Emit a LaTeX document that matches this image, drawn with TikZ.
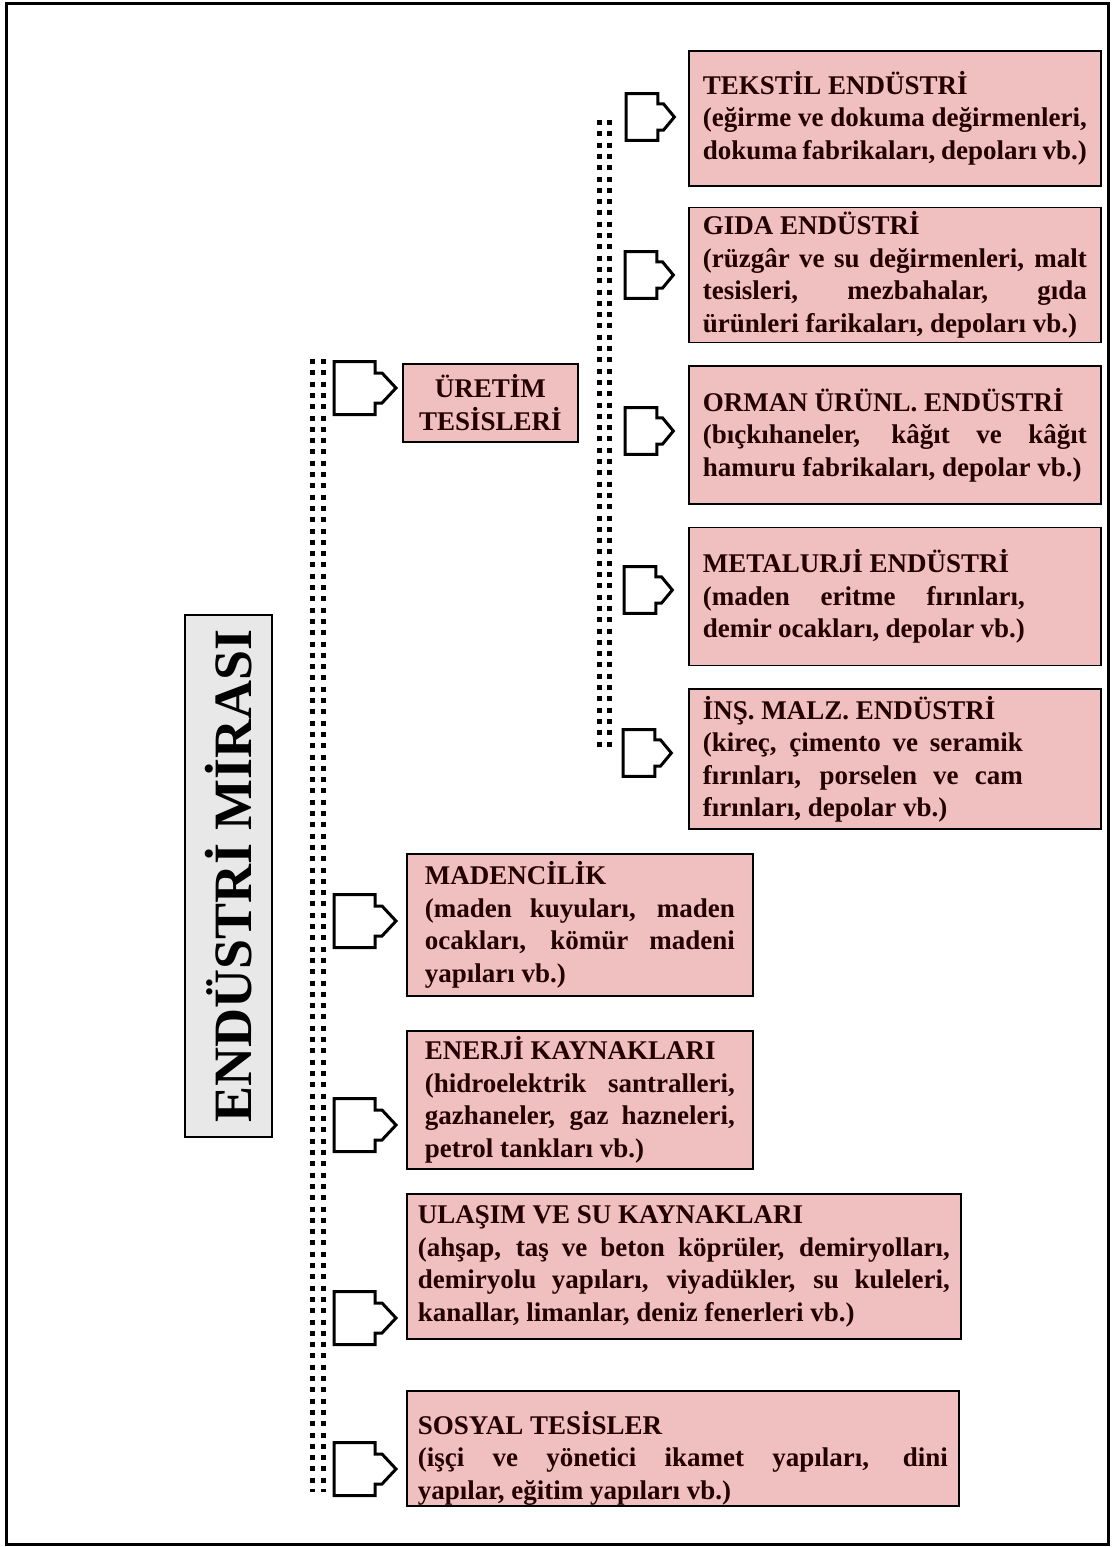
\documentclass[tikz,border=0pt]{standalone}
\usepackage{fontspec}
\setmainfont{Liberation Serif}
\usetikzlibrary{positioning}

\definecolor{kutupembe}{RGB}{240,191,191}
\definecolor{kutugri}{RGB}{232,232,232}
\definecolor{metin}{RGB}{36,0,0}

\begin{document}
\begin{tikzpicture}[
    x=1pt, y=-1pt,
    font=\bfseries\fontsize{27}{32.5}\selectfont,
    % Node styles
    kutu/.style={draw, line width=1.6pt, fill=kutupembe, text=metin, anchor=north west, align=justify, inner ysep=4pt},
    dar/.style={execute at begin node={\rightskip=#1\relax}},
    anabaslik/.style={draw, line width=1.6pt, fill=kutugri, rotate=90, minimum width=522pt, minimum height=87pt, font=\bfseries\fontsize{54}{60}\selectfont},
    nokta/.style={line width=5pt, dash pattern=on 5pt off 6.3pt},
    pics/blokok/.style={code={
        \draw[line width=3pt, fill=white] (0,-26.5) -- (41,-26.5) -- (41,-15) -- (48,-15) -- (62,0) -- (48,15) -- (41,15) -- (41,26.5) -- (0,26.5) -- cycle;
    }},
]
    \useasboundingbox (0,0) rectangle (1112,1547);

    % Frame
    \draw[line width=3pt] (6,3) rectangle (1108,1544);

    % Main title
    \node[anabaslik] (miras) at (228.5,876) {ENDÜSTRİ MİRASI};

    % Spines
    \coordinate (solust) at (318,359);
    \coordinate (solalt) at (318,1492);
    \coordinate (sagust) at (604.5,120);
    \coordinate (sagalt) at (604.5,750);
    \draw[nokta] ([xshift=-5.5pt]solust) -- ([xshift=-5.5pt]solalt);
    \draw[nokta] ([xshift=5.5pt]solust) -- ([xshift=5.5pt]solalt);
    \draw[nokta] ([xshift=-5pt]sagust) -- ([xshift=-5pt]sagalt);
    \draw[nokta] ([xshift=5pt]sagust) -- ([xshift=5pt]sagalt);

    % Production facilities
    \node[kutu, align=center, text width=160pt, inner xsep=7.5pt, minimum height=78pt] (uretim) at (402,363) {ÜRETİM\\TESİSLERİ};

    \node[kutu, text width=384pt, inner xsep=14pt, minimum height=135pt] (tekstil) at (688,50)
        {TEKSTİL ENDÜSTRİ\\(eğirme ve dokuma değirmenleri,\linebreak dokuma fabrikaları, depoları vb.)};
    \node[kutu, text width=384pt, inner xsep=14pt, minimum height=135pt, below right=20pt and 0pt of tekstil.south west] (gida)
        {GIDA ENDÜSTRİ\\(rüzgâr ve su değirmenleri, malt\linebreak tesisleri, mezbahalar, gıda\linebreak ürünleri farikaları, depoları vb.)};
    \node[kutu, text width=384pt, inner xsep=14pt, minimum height=138pt, below right=22pt and 0pt of gida.south west] (orman)
        {ORMAN ÜRÜNL. ENDÜSTRİ\\(bıçkıhaneler, kâğıt ve kâğıt\linebreak hamuru fabrikaları, depolar vb.)};
    \node[kutu, dar=62pt, text width=384pt, inner xsep=14pt, minimum height=138pt, below right=22pt and 0pt of orman.south west] (metalurji)
        {METALURJİ ENDÜSTRİ\\(maden eritme fırınları,\linebreak demir ocakları, depolar vb.)};
    \node[kutu, dar=64pt, text width=384pt, inner xsep=14pt, minimum height=140pt, below right=22pt and 0pt of metalurji.south west] (insaat)
        {İNŞ. MALZ. ENDÜSTRİ\\(kireç, çimento ve seramik\linebreak fırınları, porselen ve cam\linebreak fırınları, depolar vb.)};

    % Other groups
    \node[kutu, text width=310pt, inner xsep=18pt, minimum height=142pt] (madencilik) at (406,853)
        {MADENCİLİK\\(maden kuyuları, maden\linebreak ocakları, kömür madeni\linebreak yapıları vb.)};
    \node[kutu, text width=310pt, inner xsep=18pt, minimum height=138pt] (enerji) at (406,1030)
        {ENERJİ KAYNAKLARI\\(hidroelektrik santralleri,\linebreak gazhaneler, gaz hazneleri,\linebreak petrol tankları vb.)};
    \node[kutu, text width=532pt, inner xsep=11pt, minimum height=145pt] (ulasim) at (406,1193)
        {ULAŞIM VE SU KAYNAKLARI\\(ahşap, taş ve beton köprüler, demiryolları,\linebreak demiryolu yapıları, viyadükler, su kuleleri,\linebreak kanallar, limanlar, deniz fenerleri vb.)};
    \node[kutu, text width=530pt, inner xsep=11pt, minimum height=115pt, text height=33pt, text depth=61pt] (sosyal) at (406,1390)
        {SOSYAL TESİSLER\\(işçi ve yönetici ikamet yapıları, dini\linebreak yapılar, eğitim yapıları vb.)};

    % Block arrows
    \pic at (334,388) {blokok};
    \pic at (334,921) {blokok};
    \pic at (334,1125) {blokok};
    \pic at (334,1318) {blokok};
    \pic at (334,1469) {blokok};
    \pic[xscale=0.78, yscale=0.88] at (626,117) {blokok};
    \pic[xscale=0.78, yscale=0.88] at (625,275) {blokok};
    \pic[xscale=0.78, yscale=0.88] at (625,431) {blokok};
    \pic[xscale=0.78, yscale=0.88] at (624,590) {blokok};
    \pic[xscale=0.78, yscale=0.88] at (623,753) {blokok};

\end{tikzpicture}
\end{document}
